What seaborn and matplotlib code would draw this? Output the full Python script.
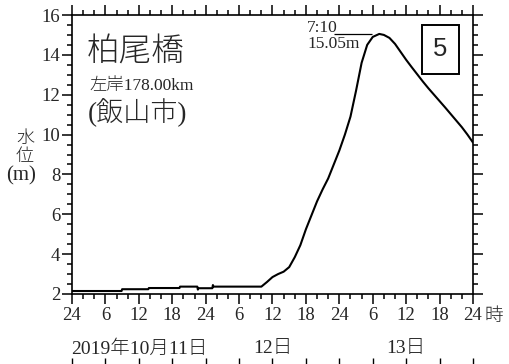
import matplotlib
matplotlib.use("Agg")
import matplotlib.pyplot as plt
from matplotlib.patches import Rectangle
import seaborn as sns
import pandas as pd

# Hours since 2019-10-11 00:00 and water level (m) at 柏尾橋
hours = [0, 8.9, 9.0, 13.7, 13.8, 19.3, 19.4, 22.5, 22.6, 22.7, 25.2, 25.3, 25.4,
         34.0, 35.0, 36.0, 37.0, 38.0, 39.0, 40.0, 41.0, 42.0, 43.0, 44.0, 45.0,
         46.0, 47.0, 48.0, 49.0, 50.0, 51.0, 52.0, 53.0, 54.0, 55.17, 56.0, 57.0,
         58.0, 59.0, 60.0, 61.0, 62.0, 63.0, 64.0, 65.0, 66.0, 67.0, 68.0, 69.0,
         70.0, 71.0, 72.0]
level = [2.15, 2.15, 2.24, 2.24, 2.30, 2.30, 2.37, 2.37, 2.22, 2.29, 2.29, 2.45, 2.37,
         2.37, 2.60, 2.85, 3.00, 3.12, 3.35, 3.85, 4.45, 5.25, 5.95, 6.65, 7.25,
         7.80, 8.50, 9.20, 10.00, 10.90, 12.20, 13.60, 14.50, 14.90, 15.05, 15.00, 14.85,
         14.55, 14.15, 13.75, 13.38, 13.02, 12.66, 12.32, 12.00, 11.68, 11.36, 11.03, 10.70,
         10.37, 10.00, 9.60]

peak_hour = 55.17
peak_level = 15.05
peak_time_label = "7:10"

x_ticks = list(range(0, 73, 6))
x_tick_labels = ["24", "6", "12", "18", "24", "6", "12", "18", "24", "6", "12", "18", "24"]
day_labels = ["2019年10月11日", "12日", "13日"]
day_centers = [12, 36, 60]

station = "柏尾橋"
location = "左岸178.00km"
city = "(飯山市)"
panel_no = "5"

sns.set_style("ticks")
plt.rcParams["font.family"] = ["Liberation Serif", "Noto Sans CJK JP"]

W, H = 510, 364
fig = plt.figure(figsize=(W / 100, H / 100), dpi=100)
L, R, T, B = 72, 473, 15, 294
ax = fig.add_axes([L / W, 1 - B / H, (R - L) / W, (B - T) / H])

df = pd.DataFrame({"hour": hours, "level": level})
sns.lineplot(data=df, x="hour", y="level", ax=ax, color="black", lw=1.5,
             estimator=None, sort=False)

ax.set_xlim(0, 72)
ax.set_ylim(2, 16)
ax.set_xlabel("")
ax.set_ylabel("")

ax.set_xticks(x_ticks)
ax.set_xticklabels(x_tick_labels)
ax.set_xticks(range(0, 73, 2), minor=True)
ax.set_yticks(range(2, 17, 2))
ax.set_yticks([2 + 0.5 * i for i in range(29)], minor=True)

for s in ax.spines.values():
    s.set_linewidth(1.2)
    s.set_color("black")

ax.tick_params(axis="both", which="both", direction="out", color="black", width=1.1)
ax.tick_params(axis="x", which="major", length=7.2, top=True, labeltop=False,
               labelsize=13.5, pad=2.5)
ax.tick_params(axis="x", which="minor", length=3.4, top=True)
ax.tick_params(axis="y", which="major", length=7.2, right=True, labelright=False,
               labelsize=13.5, pad=1.2)
ax.tick_params(axis="y", which="minor", length=3.8, right=True)

# hour unit after the last tick label
ax.annotate("時", xy=(72, 0), xycoords=("data", "axes fraction"),
            xytext=(8, -16.5), textcoords="offset points",
            ha="left", va="center", fontsize=13.5, fontweight="light")

# day labels under the hour ticks
for d, c in zip(day_labels, day_centers):
    ax.annotate(d, xy=(c, 0), xycoords=("data", "axes fraction"),
                xytext=(0, -39.5), textcoords="offset points",
                ha="center", va="center", fontsize=14, fontweight="light")

# vertical y-axis label
fig.text(25 / W, 1 - 138 / H, "水", ha="center", va="center", fontsize=13,
         fontweight="light")
fig.text(25 / W, 1 - 157 / H, "位", ha="center", va="center", fontsize=13,
         fontweight="light")
fig.text(21 / W, 1 - 176 / H, "(m)", ha="center", va="center", fontsize=15)

# station name block
fig.text(87 / W, 1 - 52 / H, station, ha="left", va="center", fontsize=23.5,
         fontweight="light")
fig.text(89 / W, 1 - 86 / H, location, ha="left", va="center", fontsize=12.5,
         fontweight="light")
fig.text(88 / W, 1 - 113 / H, city, ha="left", va="center", fontsize=19.5,
         fontweight="light")

# peak annotation
ax.hlines(peak_level, 47.1, 53.9, color="black", lw=0.9)
ax.annotate(peak_time_label, xy=(42.2, peak_level), xycoords="data",
            xytext=(0, 4.0), textcoords="offset points",
            ha="left", va="center", fontsize=12.5)
ax.annotate(f"{peak_level:.2f}m", xy=(42.2, peak_level), xycoords="data",
            xytext=(0, -7), textcoords="offset points",
            ha="left", va="center", fontsize=12.5)

# panel number box
fig.patches.append(Rectangle((422 / W, 1 - 74 / H), 37 / W, 49 / H,
                             transform=fig.transFigure, fill=False,
                             edgecolor="black", lw=1.4))
fig.text(440.5 / W, 1 - 49.5 / H, panel_no, ha="center", va="center",
         fontsize=18.5, family="Liberation Sans")

# top edge of the next panel below
ax2 = fig.add_axes([L / W, -0.3, (R - L) / W, 0.3 - 2 / H])
ax2.set_xlim(0, 72)
ax2.set_xticks(x_ticks)
ax2.set_yticks([])
for s in ax2.spines.values():
    s.set_visible(False)
ax2.patch.set_visible(False)
ax2.tick_params(axis="x", which="major", direction="out", length=6, width=1.0,
                top=True, bottom=False, labelbottom=False, color="black")

fig.savefig("out.png", dpi=100)
